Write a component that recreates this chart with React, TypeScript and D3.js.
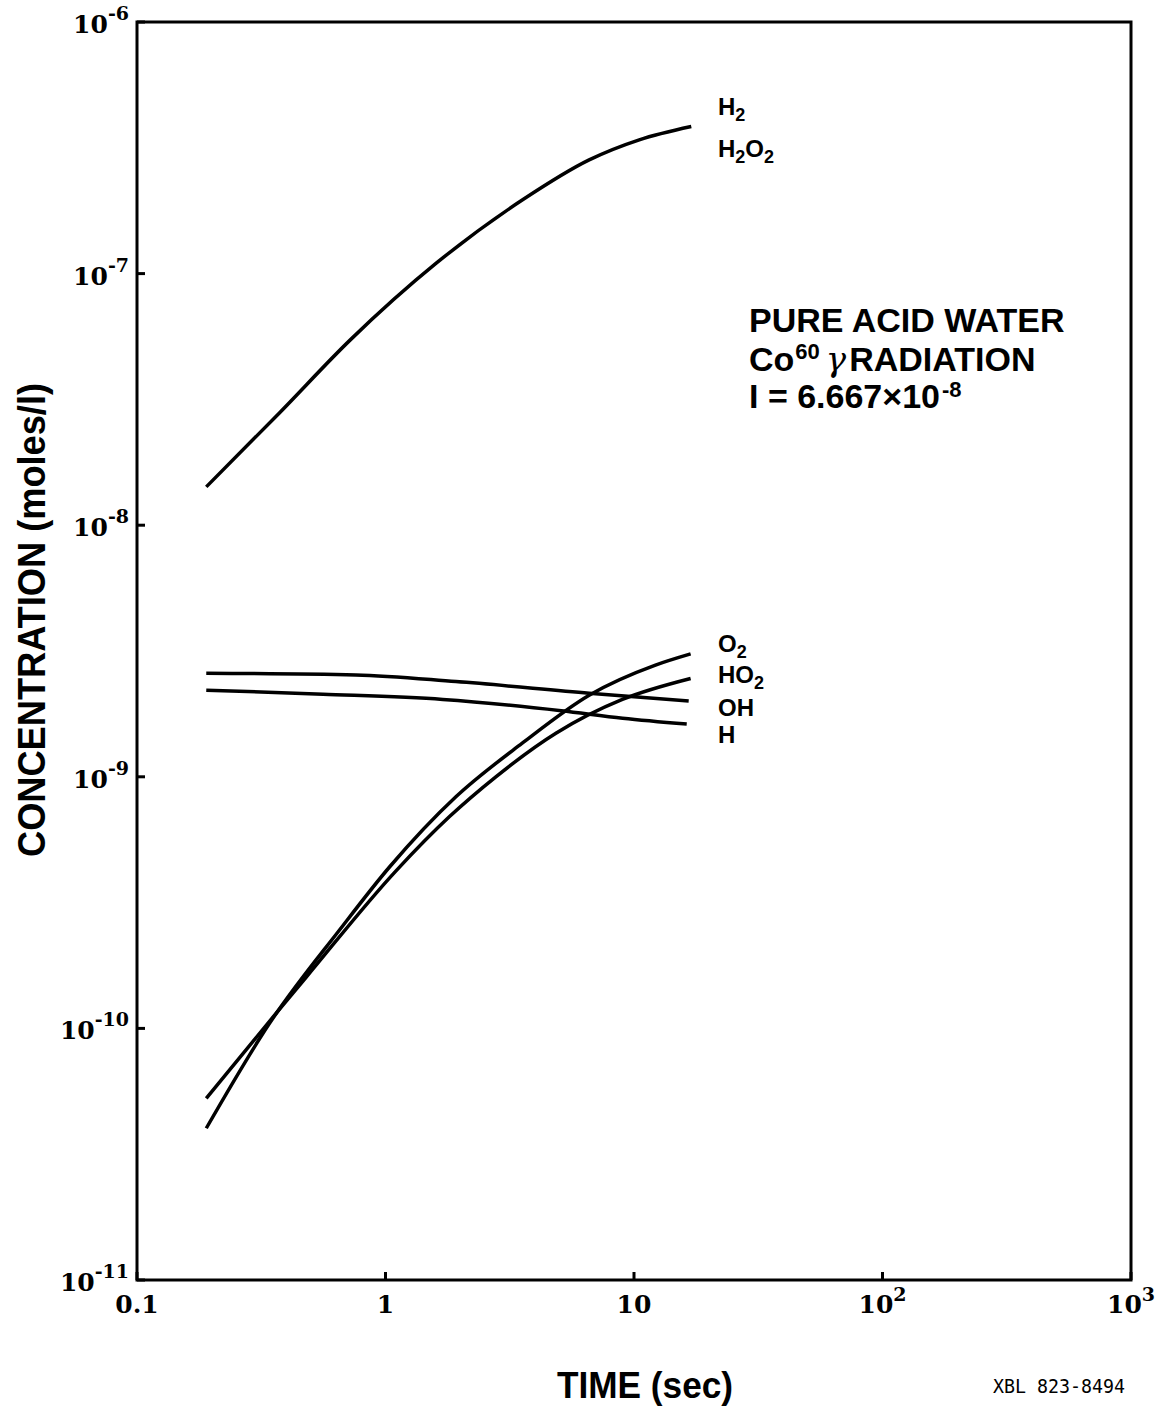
import React, { useEffect, useRef } from "react";
import * as d3 from "d3";

const width = 1161;
const height = 1411;

// axis ticks
const timeTicks = [0.1, 1, 10, 100, 1000];
const timeTickBase = ["0.1", "1", "10", "10", "10"];
const timeTickExp = ["", "", "", "2", "3"];
const concTicks = [1e-11, 1e-10, 1e-9, 1e-8, 1e-7, 1e-6];
const concTickExp = ["-11", "-10", "-9", "-8", "-7", "-6"];

// curves (time in sec, concentration in moles/l)
const h2Time = [0.19, 0.375, 0.72, 1.6, 3.55, 6.6, 10.5, 17];
const h2Conc = [1.42e-8, 2.8e-8, 5.44e-8, 1.1e-7, 1.96e-7, 2.83e-7, 3.4e-7, 3.84e-7];

const ohTime = [0.19, 0.76, 1.92, 6.6, 16.6];
const ohConc = [2.58e-9, 2.54e-9, 2.39e-9, 2.15e-9, 2.0e-9];

const hTime = [0.19, 0.56, 1.7, 5.1, 9.0, 16.3];
const hConc = [2.21e-9, 2.13e-9, 2.03e-9, 1.83e-9, 1.71e-9, 1.62e-9];

const o2Time = [0.19, 0.342, 0.653, 1.04, 1.92, 3.55, 6.6, 12.2, 16.9];
const o2Conc = [4.01e-11, 1.05e-10, 2.46e-10, 4.39e-10, 8.33e-10, 1.36e-9, 2.11e-9, 2.78e-9, 3.08e-9];

const ho2Time = [0.19, 0.342, 0.48, 1.1, 1.81, 2.78, 4.85, 8.98, 16.9];
const ho2Conc = [5.27e-11, 1.07e-10, 1.6e-10, 4.22e-10, 6.95e-10, 1.0e-9, 1.49e-9, 2.03e-9, 2.46e-9];

const seriesTimes = [h2Time, ohTime, hTime, o2Time, ho2Time];
const seriesConcs = [h2Conc, ohConc, hConc, o2Conc, ho2Conc];

// labels at the curve ends (digits are subscripts)
const endLabels = ["H2", "H2O2", "O2", "HO2", "OH", "H"];
const endLabelSeries = [0, 0, 3, 4, 1, 2];
const endLabelDy = [-12, 30, -2, 5, 15, 19];

const SANS = "'Liberation Sans', Arial, sans-serif";
const SERIF = "'DejaVu Serif', serif";

const App = () => {
  const ref = useRef<SVGSVGElement>(null);

  useEffect(() => {
    document.body.style.margin = "0";
    const svg = d3.select(ref.current);
    svg.selectAll("*").remove();

    const x = d3.scaleLog().domain([0.1, 1000]).range([137, 1131]);
    const y = d3.scaleLog().domain([1e-11, 1e-6]).range([1280, 22]);

    // frame
    svg
      .append("rect")
      .attr("x", x(0.1))
      .attr("y", y(1e-6))
      .attr("width", x(1000) - x(0.1))
      .attr("height", y(1e-11) - y(1e-6))
      .attr("fill", "none")
      .attr("stroke", "#000")
      .attr("stroke-width", 3);

    // ticks (inward)
    svg
      .append("g")
      .selectAll("line")
      .data(timeTicks)
      .join("line")
      .attr("x1", (d) => x(d))
      .attr("x2", (d) => x(d))
      .attr("y1", y(1e-11))
      .attr("y2", y(1e-11) - 8)
      .attr("stroke", "#000")
      .attr("stroke-width", 3);

    svg
      .append("g")
      .selectAll("line")
      .data(concTicks)
      .join("line")
      .attr("x1", x(0.1))
      .attr("x2", x(0.1) + 8)
      .attr("y1", (d) => y(d))
      .attr("y2", (d) => y(d))
      .attr("stroke", "#000")
      .attr("stroke-width", 3);

    // x tick labels
    const xl = svg
      .append("g")
      .selectAll("text")
      .data(timeTicks)
      .join("text")
      .attr("x", (d) => x(d))
      .attr("y", 1313)
      .attr("text-anchor", "middle")
      .attr("font-family", SERIF)
      .attr("font-weight", 700)
      .attr("font-size", 25);
    xl.append("tspan").text((d, i) => timeTickBase[i]);
    xl.append("tspan")
      .attr("font-size", 19)
      .attr("dy", -12)
      .text((d, i) => timeTickExp[i]);

    // y tick labels
    const yl = svg
      .append("g")
      .selectAll("text")
      .data(concTicks)
      .join("text")
      .attr("x", 129)
      .attr("y", (d) => y(d) + 11)
      .attr("text-anchor", "end")
      .attr("font-family", SERIF)
      .attr("font-weight", 700)
      .attr("font-size", 25);
    yl.append("tspan").text("10");
    yl.append("tspan")
      .attr("font-size", 19)
      .attr("dy", -13)
      .text((d, i) => concTickExp[i]);

    // curves
    const line = d3
      .line<[number, number]>()
      .x((d) => x(d[0]))
      .y((d) => y(d[1]))
      .curve(d3.curveMonotoneX);

    svg
      .append("g")
      .selectAll("path")
      .data(seriesTimes.map((ts, i) => ts.map((t, j) => [t, seriesConcs[i][j]] as [number, number])))
      .join("path")
      .attr("d", (d) => line(d))
      .attr("fill", "none")
      .attr("stroke", "#000")
      .attr("stroke-width", 3.5);

    // curve end labels
    endLabels.forEach((lab, i) => {
      const cs = seriesConcs[endLabelSeries[i]];
      const t = svg
        .append("text")
        .attr("x", 718)
        .attr("y", y(cs[cs.length - 1]) + endLabelDy[i])
        .attr("font-family", SANS)
        .attr("font-weight", 700)
        .attr("font-size", 24);
      let sub = false;
      lab.split("").forEach((ch) => {
        const isDigit = /[0-9]/.test(ch);
        const sp = t.append("tspan").text(ch);
        if (isDigit && !sub) {
          sp.attr("dy", 6).attr("font-size", 18);
          sub = true;
        } else if (!isDigit && sub) {
          sp.attr("dy", -6);
          sub = false;
        } else if (isDigit) {
          sp.attr("font-size", 18);
        }
      });
    });

    // annotation
    const ann = svg
      .append("g")
      .attr("font-family", SANS)
      .attr("font-weight", 700)
      .attr("font-size", 34);
    ann.append("text").attr("x", 749).attr("y", 332).text("PURE ACID WATER");
    const l2 = ann.append("text").attr("x", 749).attr("y", 371);
    l2.append("tspan").text("Co");
    l2.append("tspan").attr("font-size", 22).attr("dy", -12).attr("dx", 1).text("60");
    l2.append("tspan")
      .attr("dy", 12)
      .attr("dx", 6)
      .attr("font-family", SERIF)
      .attr("font-style", "italic")
      .attr("font-weight", 400)
      .text("γ");
    l2.append("tspan").attr("dx", 3).text("RADIATION");
    const l3 = ann.append("text").attr("x", 749).attr("y", 408);
    l3.append("tspan").text("I = 6.667×10");
    l3.append("tspan").attr("font-size", 22).attr("dy", -11).attr("dx", 2).text("-8");

    // axis titles
    svg
      .append("text")
      .attr("transform", "translate(45,620) rotate(-90)")
      .attr("text-anchor", "middle")
      .attr("font-family", SANS)
      .attr("font-weight", 700)
      .attr("font-size", 38)
      .attr("textLength", 474)
      .attr("lengthAdjust", "spacingAndGlyphs")
      .text("CONCENTRATION (moles/l)");

    svg
      .append("text")
      .attr("x", 645)
      .attr("y", 1398)
      .attr("text-anchor", "middle")
      .attr("font-family", SANS)
      .attr("font-weight", 700)
      .attr("font-size", 36)
      .attr("textLength", 176)
      .attr("lengthAdjust", "spacingAndGlyphs")
      .text("TIME (sec)");

    svg
      .append("text")
      .attr("x", 993)
      .attr("y", 1393)
      .attr("font-family", "'DejaVu Sans Mono', monospace")
      .attr("font-size", 19)
      .attr("textLength", 132)
      .attr("lengthAdjust", "spacingAndGlyphs")
      .text("XBL 823-8494");
  }, []);

  return (
    <svg
      ref={ref}
      width={width}
      height={height}
      viewBox={`0 0 ${width} ${height}`}
      style={{ display: "block", background: "#fff" }}></svg>
  );
};

export default App;
